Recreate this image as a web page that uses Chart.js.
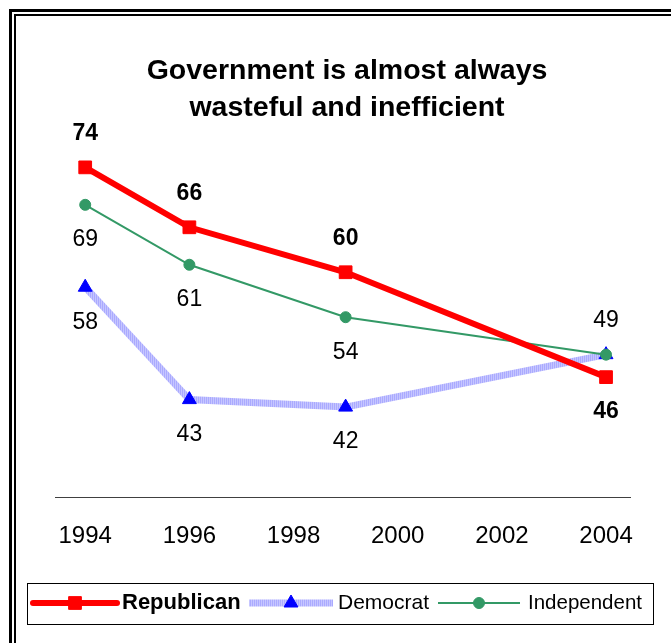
<!DOCTYPE html>
<html>
<head>
<meta charset="utf-8">
<script src="https://cdn.jsdelivr.net/npm/chart.js@4"></script>
<style>
  html, body { margin: 0; padding: 0; background: #fff; }
  #c { display: block; }
</style>
</head>
<body>
<canvas id="c" width="671" height="643"></canvas>
<script>
// ---- Data ----
const years = [1994, 1996, 1999, 2004];
const republican = [74, 66, 60, 46];
const democrat = [58, 43, 42, 49];
const independent = [69, 61, 54, 49];
const tickYears = [1994, 1996, 1998, 2000, 2002, 2004];
const seriesNames = ['Republican', 'Democrat', 'Independent'];
const titleLines = ['Government is almost always', 'wasteful and inefficient'];
// label placement per point ('above' / 'below' / null = hidden)
const repLabelPos = ['above', 'above', 'above', 'below'];
const demLabelPos = ['below', 'below', 'below', null];
const indLabelPos = ['below', 'below', 'below', 'above'];

const FONT = '"Liberation Sans", Arial, Helvetica, sans-serif';

function toPoints(vals) { return years.map((x, i) => ({ x: x, y: vals[i] })); }

// hatched lavender pattern for Democrat line
function makePattern() {
  const pc = document.createElement('canvas');
  pc.width = 2; pc.height = 2;
  const p = pc.getContext('2d');
  p.fillStyle = '#C6C6FF'; p.fillRect(0, 0, 2, 2);
  p.fillStyle = '#AAAAFF'; p.fillRect(0, 0, 1, 2);
  return document.getElementById('c').getContext('2d').createPattern(pc, 'repeat');
}
const demPattern = makePattern();

const labelPositions = [repLabelPos, demLabelPos, indLabelPos];

const decorPlugin = {
  id: 'decor',
  beforeDraw(chart) {
    const ctx = chart.ctx;
    ctx.save();
    ctx.fillStyle = '#fff';
    ctx.fillRect(0, 0, chart.width, chart.height);
    // double frame
    ctx.fillStyle = '#000';
    ctx.fillRect(9, 9, 700, 3);
    ctx.fillRect(9, 9, 3, 700);
    ctx.fillRect(14, 14, 700, 2);
    ctx.fillRect(14, 14, 2, 700);
    // title
    ctx.font = 'bold 28.5px ' + FONT;
    ctx.textAlign = 'center';
    ctx.textBaseline = 'middle';
    ctx.fillStyle = '#000';
    ctx.fillText(titleLines[0], 347, 71);
    ctx.fillText(titleLines[1], 347, 108);
    ctx.restore();
  },
  afterDatasetsDraw(chart) {
    const ctx = chart.ctx;
    ctx.save();
    ctx.textAlign = 'center';
    ctx.textBaseline = 'middle';
    ctx.fillStyle = '#000';
    chart.data.datasets.forEach((ds, di) => {
      const meta = chart.getDatasetMeta(di);
      ctx.font = (di === 0 ? 'bold ' : '') + '23px ' + FONT;
      meta.data.forEach((pt, i) => {
        const pos = labelPositions[di][i];
        if (!pos) return;
        const dy = pos === 'above' ? -34 : 35;
        ctx.fillText(String(ds.data[i].y), pt.x, pt.y + dy);
      });
    });
    ctx.restore();
  },
  afterDraw(chart) {
    const ctx = chart.ctx;
    ctx.save();
    // legend box
    ctx.strokeStyle = '#000';
    ctx.lineWidth = 1;
    ctx.strokeRect(27.5, 583.5, 626, 41);
    const ly = 603;
    const entries = [
      { x0: 33, x1: 117, tx: 122, bold: true, size: 22 },
      { x0: 249, x1: 333, tx: 338, bold: false, size: 21 },
      { x0: 438, x1: 520, tx: 528, bold: false, size: 20.5 }
    ];
    chart.data.datasets.forEach((ds, di) => {
      const e = entries[di];
      ctx.save();
      ctx.strokeStyle = ds.borderColor;
      ctx.lineWidth = ds.borderWidth;
      ctx.lineCap = di === 0 ? 'round' : 'butt';
      ctx.beginPath();
      ctx.moveTo(e.x0, ly);
      ctx.lineTo(e.x1, ly);
      ctx.stroke();
      ctx.restore();
      const cx = (e.x0 + e.x1) / 2;
      ctx.save();
      ctx.fillStyle = ds.pointBackgroundColor;
      ctx.strokeStyle = ds.pointBorderColor;
      ctx.lineWidth = 1;
      Chart.helpers.drawPoint(ctx, { pointStyle: ds.pointStyle, radius: ds.pointRadius, borderWidth: 1, rotation: 0 }, cx, ly);
      ctx.restore();
      ctx.fillStyle = '#000';
      ctx.font = (e.bold ? 'bold ' : '') + e.size + 'px ' + FONT;
      ctx.textAlign = 'left';
      ctx.textBaseline = 'middle';
      ctx.fillText(seriesNames[di], e.tx, ly);
    });
    ctx.restore();
  }
};

new Chart(document.getElementById('c'), {
  type: 'line',
  data: {
    datasets: [
      {
        label: seriesNames[0],
        data: toPoints(republican),
        borderColor: '#FF0000',
        backgroundColor: '#FF0000',
        borderWidth: 6,
        pointStyle: 'rect',
        pointRadius: 9,
        pointBackgroundColor: '#FF0000',
        pointBorderColor: '#FF0000',
        pointBorderWidth: 1,
        tension: 0,
        order: 1
      },
      {
        label: seriesNames[1],
        data: toPoints(democrat),
        borderColor: demPattern,
        backgroundColor: '#0000FF',
        borderWidth: 7,
        pointStyle: 'triangle',
        pointRadius: 8,
        pointBackgroundColor: '#0000FF',
        pointBorderColor: '#0000FF',
        pointBorderWidth: 1,
        tension: 0,
        order: 3
      },
      {
        label: seriesNames[2],
        data: toPoints(independent),
        borderColor: '#339966',
        backgroundColor: '#339966',
        borderWidth: 2,
        pointStyle: 'circle',
        pointRadius: 5.5,
        pointBackgroundColor: '#339966',
        pointBorderColor: '#339966',
        pointBorderWidth: 1,
        tension: 0,
        order: 2
      }
    ]
  },
  options: {
    responsive: false,
    animation: false,
    devicePixelRatio: 1,
    layout: { padding: { left: 55, right: 41, top: 49, bottom: 0 } },
    plugins: {
      legend: { display: false },
      title: { display: false },
      tooltip: { enabled: false }
    },
    scales: {
      x: {
        type: 'linear',
        min: 1993.42,
        max: 2004.46,
        afterBuildTicks(scale) { scale.ticks = tickYears.map(v => ({ value: v })); },
        afterFit(scale) { scale.height = 146; },
        grid: { display: false, drawTicks: false },
        border: { display: true, color: '#404040', width: 1 },
        ticks: {
          autoSkip: false,
          maxRotation: 0,
          padding: 25,
          color: '#000',
          font: { family: FONT, size: 24 },
          callback: v => String(v)
        }
      },
      y: {
        display: false,
        min: 30,
        max: 89.8
      }
    }
  },
  plugins: [decorPlugin]
});
</script>
</body>
</html>
